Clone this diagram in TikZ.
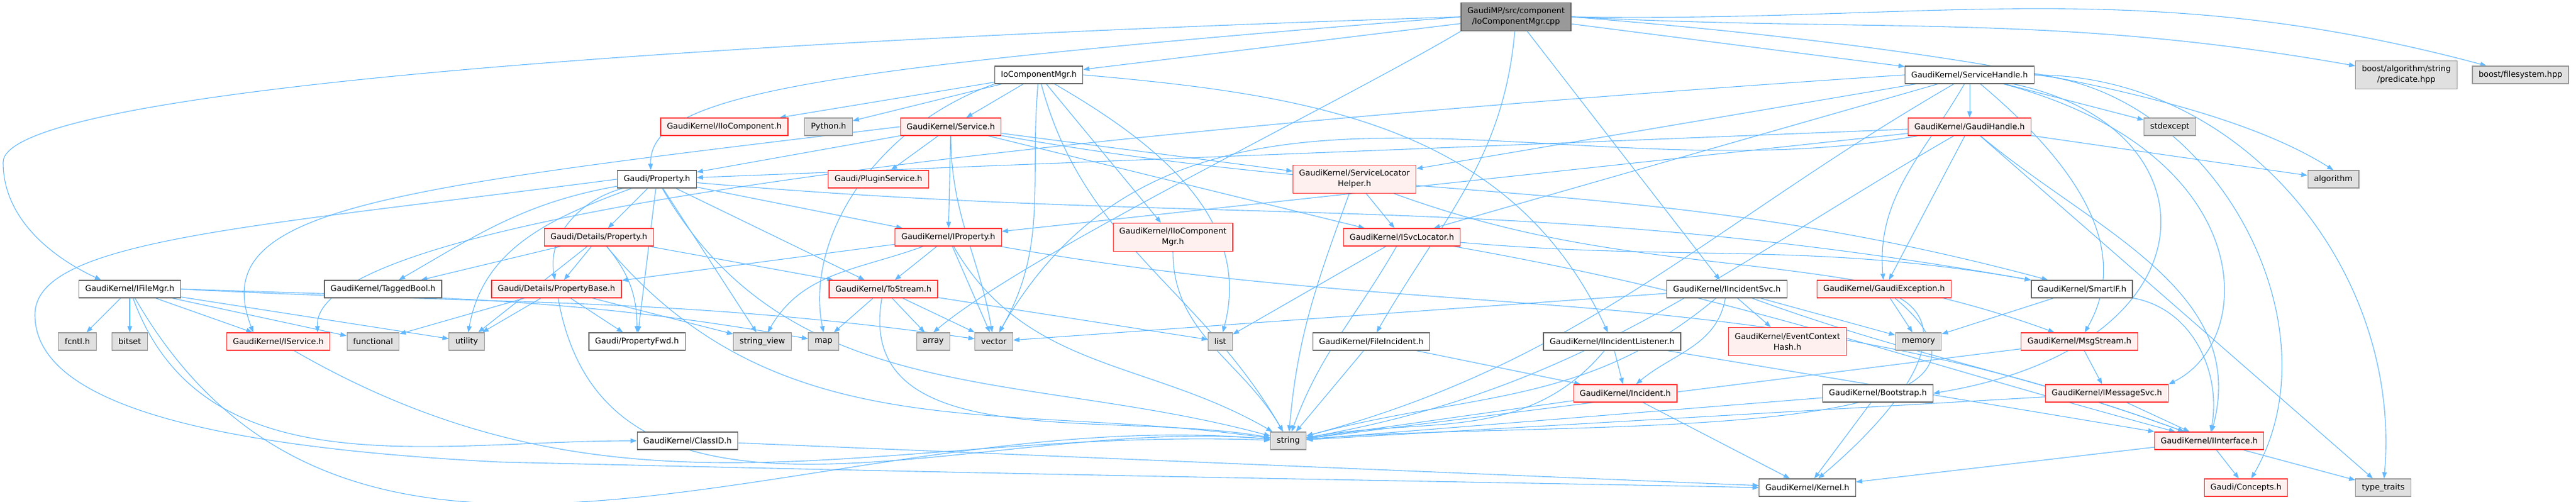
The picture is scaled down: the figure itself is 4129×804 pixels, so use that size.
\documentclass[tikz,border=0pt]{standalone}
\usepackage{fontspec}
\setmainfont{DejaVu Sans}
\usetikzlibrary{arrows.meta,backgrounds}

\definecolor{edgeblue}{HTML}{63B8FF}
\definecolor{boxgray}{HTML}{666666}
\definecolor{boxred}{HTML}{FF3333}
\definecolor{redfill}{HTML}{FFF0F0}
\definecolor{sysgray}{HTML}{999999}
\definecolor{sysfill}{HTML}{E0E0E0}
\definecolor{maingray}{HTML}{999999}

% one unit is one pixel of the graph, drawn at a tenth of a point
\tikzset{
  filebox/.style={draw=boxgray,fill=white,line width=0.12pt,minimum height=2.8pt,
    inner xsep=1pt,inner ysep=0pt,font=\fontsize{1.28}{1.7}\selectfont},
  redbox/.style={filebox,draw=boxred,fill=redfill},
  sysbox/.style={filebox,draw=sysgray,fill=sysfill},
  mainbox/.style={filebox,fill=maingray,align=center,minimum height=4.5pt},
  twoline/.style={align=center,minimum height=4.5pt},
  inc/.style={draw=edgeblue,line width=0.11pt,-{Triangle[length=1pt,width=0.75pt]}}
}

\begin{document}
\begin{tikzpicture}[x=0.1pt,y=0.1pt]
  \useasboundingbox (0,0) rectangle (4129,804);
  % rows, top to bottom
  \node[mainbox] (main) at (2430,777) {GaudiMP/src/component\\/IoComponentMgr.cpp};

  \node[filebox] (iocm) at (1665,684) {IoComponentMgr.h};
  \node[filebox] (svchandle) at (3157,684) {GaudiKernel/ServiceHandle.h};
  \node[sysbox,twoline] (predicate) at (3857,684) {boost/algorithm/string\\/predicate.hpp};
  \node[sysbox] (fsys) at (4040,684) {boost/filesystem.hpp};

  \node[redbox] (iiocomp) at (1161,601) {GaudiKernel/IIoComponent.h};
  \node[sysbox] (python) at (1328,601) {Python.h};
  \node[redbox] (service) at (1524,601) {GaudiKernel/Service.h};
  \node[redbox] (gaudihandle) at (3157,601) {GaudiKernel/GaudiHandle.h};
  \node[sysbox] (stdexcept) at (3478,601) {stdexcept};

  \node[filebox] (property) at (1053,517) {Gaudi/Property.h};
  \node[redbox] (pluginsvc) at (1408,517) {Gaudi/PluginService.h};
  \node[redbox,twoline] (svclochelper) at (2171,517) {GaudiKernel/ServiceLocator\\Helper.h};
  \node[sysbox] (algorithm) at (3740,517) {algorithm};

  \node[redbox] (detprop) at (960,424) {Gaudi/Details/Property.h};
  \node[redbox] (iprop) at (1520,424) {GaudiKernel/IProperty.h};
  \node[redbox,twoline] (iiocompmgr) at (1880,424) {GaudiKernel/IIoComponent\\Mgr.h};
  \node[redbox] (isvcloc) at (2247,424) {GaudiKernel/ISvcLocator.h};

  \node[filebox] (ifilemgr) at (208,341) {GaudiKernel/IFileMgr.h};
  \node[filebox] (taggedbool) at (614,341) {GaudiKernel/TaggedBool.h};
  \node[redbox] (propbase) at (892,341) {Gaudi/Details/PropertyBase.h};
  \node[redbox] (tostream) at (1416,341) {GaudiKernel/ToStream.h};
  \node[filebox] (iincsvc) at (2768,341) {GaudiKernel/IIncidentSvc.h};
  \node[redbox] (gaudiexc) at (3020,341) {GaudiKernel/GaudiException.h};
  \node[filebox] (smartif) at (3337,341) {GaudiKernel/SmartIF.h};

  \node[sysbox] (fcntl) at (124,257) {fcntl.h};
  \node[sysbox] (bitset) at (208,257) {bitset};
  \node[redbox] (iservice) at (446,257) {GaudiKernel/IService.h};
  \node[sysbox] (functional) at (598,257) {functional};
  \node[sysbox] (utility) at (748,257) {utility};
  \node[filebox] (propfwd) at (1021,257) {Gaudi/PropertyFwd.h};
  \node[sysbox] (stringview) at (1222,257) {string\_view};
  \node[sysbox] (map) at (1320,257) {map};
  \node[sysbox] (array) at (1496,257) {array};
  \node[sysbox] (vector) at (1593,257) {vector};
  \node[sysbox] (list) at (1956,257) {list};
  \node[filebox] (fileinc) at (2198,257) {GaudiKernel/FileIncident.h};
  \node[filebox] (iinclist) at (2584,257) {GaudiKernel/IIncidentListener.h};
  \node[redbox,twoline] (evtctxhash) at (2865,257) {GaudiKernel/EventContext\\Hash.h};
  \node[sysbox] (memory) at (3075,257) {memory};
  \node[redbox] (msgstream) at (3333,257) {GaudiKernel/MsgStream.h};

  \node[redbox] (incident) at (2605,174) {GaudiKernel/Incident.h};
  \node[filebox] (bootstrap) at (3010,174) {GaudiKernel/Bootstrap.h};
  \node[redbox] (imsgsvc) at (3377,174) {GaudiKernel/IMessageSvc.h};

  \node[filebox] (classid) at (1102,98) {GaudiKernel/ClassID.h};
  \node[sysbox] (string) at (2065,98) {string};
  \node[redbox] (iinterface) at (3541,98) {GaudiKernel/IInterface.h};

  \node[filebox] (kernel) at (2897,23) {GaudiKernel/Kernel.h};
  \node[redbox] (concepts) at (3600,23) {Gaudi/Concepts.h};
  \node[sysbox] (typetraits) at (3820,23) {type\_traits};

  \begin{scope}[on background layer]
    % the source file
    \draw[inc] (main) to (iocm);
    \draw[inc] (main) to (svchandle);
    \draw[inc] (main.east) to[out=-3,in=170] (predicate);
    \draw[inc] (main.east) to[out=-1,in=165] (fsys);
    \draw[inc] (main.west) .. controls (1000,734) and (5,654) .. (5,544)
      .. controls (5,444) and (100,384) .. ([xshift=3.6pt]ifilemgr.north west);
    \draw[inc] (main.west) .. controls (1300,694) and (1040,654) .. ([xshift=-1pt]property.north);
    \draw[inc] (main) to (iincsvc);
    \draw[inc] (main) to[out=-95,in=60] (fileinc);
    \draw[inc] (main.east) .. controls (3300,714) and (3600,620) .. (algorithm.north);
    \draw[inc] (main.south west) .. controls (2150,640) and (1650,400) .. (array.north);
    % IoComponentMgr.h
    \draw[inc] (iocm) to (iiocomp);
    \draw[inc] (iocm) to (python);
    \draw[inc] (iocm) to (service);
    \draw[inc] (iocm) to (iiocompmgr);
    \draw[inc] (iocm.south west) .. controls (1400,600) and (1290,420) .. (map.north);
    \draw[inc] (iocm) to[out=-95,in=60] (vector);
    \draw[inc] (iocm) to[out=-75,in=120] (string);
    \draw[inc] (iocm) to[out=-30,in=75] (list);
    \draw[inc] (iocm.east) to[out=-5,in=115] (iinclist);
    % Service.h
    \draw[inc] (service) to (property);
    \draw[inc] (service) to (pluginsvc);
    \draw[inc] (service) to (iprop);
    \draw[inc] (service) to (svclochelper);
    \draw[inc] (service) to (isvcloc);
    \draw[inc] (service.west) .. controls (600,500) and (330,470) .. ([xshift=-4pt]iservice.north);
    \draw[inc] (service) to[out=-90,in=100] (vector);
    \draw[inc] (service) to[out=-10,in=165] (smartif);
    % Gaudi/Property.h
    \draw[inc] (property) to (detprop);
    \draw[inc] (property) to (propfwd);
    \draw[inc] (property) to (iprop);
    \draw[inc] (property) to (tostream);
    \draw[inc] (property) to (stringview);
    \draw[inc] (property) to[out=195,in=100] (propbase);
    \draw[inc] (property) to[out=190,in=30] (taggedbool);
    \draw[inc] (property) to[out=200,in=80] (utility);
    \draw[inc] (property) to[out=-60,in=165] (string);
    \draw[inc] (property) to[out=-5,in=170] (smartif);
    \draw[inc] (property.west) .. controls (400,440) and (56,420) .. (56,300)
      .. controls (56,166) and (300,90) .. (800,64)
      .. controls (1800,40) and (2500,30) .. (kernel.west);
    % Details
    \draw[inc] (detprop) to (propbase);
    \draw[inc] (detprop) to (tostream);
    \draw[inc] (detprop) to (taggedbool);
    \draw[inc] (detprop) to (utility);
    \draw[inc] (detprop) to[out=-50,in=90] (propfwd);
    \draw[inc] (detprop) to[out=-50,in=172] (string);
    \draw[inc] (propbase) to (propfwd);
    \draw[inc] (propbase) to (stringview);
    \draw[inc] (propbase) to (functional);
    \draw[inc] (propbase) to (utility);
    \draw[inc] (propbase) to[out=-80,in=175] (string);
    \draw[inc] (tostream) to (map);
    \draw[inc] (tostream) to (array);
    \draw[inc] (tostream) to (vector);
    \draw[inc] (tostream) to (list);
    \draw[inc] (tostream) to[out=-100,in=170] (string);
    % IProperty.h
    \draw[inc] (iprop) to (propbase);
    \draw[inc] (iprop) to (tostream);
    \draw[inc] (iprop) to (vector);
    \draw[inc] (iprop) to[out=200,in=60] (stringview);
    \draw[inc] (iprop) to[out=-60,in=150] (string);
    \draw[inc] (iprop) to[out=-10,in=160] (iinterface);
    % locators
    \draw[inc] (iiocompmgr) to[out=-90,in=120] (string);
    \draw[inc] (svclochelper) to (isvcloc);
    \draw[inc] (svclochelper) to[out=-110,in=85] (string);
    \draw[inc] (svclochelper) to[out=-20,in=160] (msgstream);
    \draw[inc] (isvcloc) to (list);
    \draw[inc] (isvcloc) to[out=-120,in=70] (string);
    \draw[inc] (isvcloc) to[out=-5,in=170] (smartif);
    \draw[inc] (isvcloc) to[out=-10,in=165] (iinterface);
    % IFileMgr.h
    \draw[inc] (ifilemgr) to (fcntl);
    \draw[inc] (ifilemgr) to (bitset);
    \draw[inc] (ifilemgr) to (iservice);
    \draw[inc] (ifilemgr) to (functional);
    \draw[inc] (ifilemgr) to (utility);
    \draw[inc] (ifilemgr.east) to[out=-2,in=170] (map);
    \draw[inc] (ifilemgr.east) to[out=-3,in=172] (vector);
    \draw[inc] (ifilemgr) to[out=-60,in=175] (string);
    \draw[inc] (ifilemgr) to[out=-70,in=180] (classid);
    \draw[inc] (iservice) to[out=-30,in=178] (string);
    \draw[inc] (classid) to (kernel);
    % incidents
    \draw[inc] (iincsvc) to (vector);
    \draw[inc] (iincsvc) to[out=-140,in=15] (string);
    \draw[inc] (iincsvc) to[out=-100,in=40] (incident);
    \draw[inc] (iincsvc) to (evtctxhash);
    \draw[inc] (iincsvc) to (memory);
    \draw[inc] (iincsvc) to[out=-20,in=160] (iinterface);
    \draw[inc] (iinclist) to (incident);
    \draw[inc] (iinclist) to[out=-130,in=10] (string);
    \draw[inc] (iinclist) to (iinterface);
    \draw[inc] (incident) to (string);
    \draw[inc] (incident) to (kernel);
    \draw[inc] (fileinc) to (incident);
    \draw[inc] (fileinc) to (string);
    % exceptions and interfaces
    \draw[inc] (gaudiexc) to (memory);
    \draw[inc] (gaudiexc) to[out=-40,in=5] (string);
    \draw[inc] (gaudiexc) to[out=-30,in=40] (kernel);
    \draw[inc] (bootstrap) to (kernel);
    \draw[inc] (bootstrap) to (string);
    \draw[inc] (smartif) to[out=-10,in=80] (iinterface);
    \draw[inc] (smartif) to (memory);
    \draw[inc] (msgstream) to (imsgsvc);
    \draw[inc] (msgstream) to (string);
    \draw[inc] (imsgsvc) to (iinterface);
    \draw[inc] (imsgsvc) to (string);
    \draw[inc] (iinterface) to (concepts);
    \draw[inc] (iinterface) to (typetraits);
    \draw[inc] (iinterface) to (kernel);
    % ServiceHandle.h
    \draw[inc] (svchandle) to (gaudihandle);
    \draw[inc] (svchandle) to[out=-120,in=95] (gaudiexc);
    \draw[inc] (svchandle) to (stdexcept);
    \draw[inc] (svchandle.east) to[out=0,in=85] (typetraits);
    \draw[inc] (svchandle.east) to[out=-5,in=60] (concepts);
    \draw[inc] (svchandle) to[out=-40,in=60] (msgstream);
    \draw[inc] (svchandle) .. controls (3560,600) and (3560,250) .. (bootstrap.east);
    \draw[inc] (svchandle) .. controls (3620,560) and (3620,260) .. (imsgsvc.north east);
    \draw[inc] (svchandle.west) .. controls (1200,560) and (500,420) .. ([xshift=-2pt]iservice.north east);
    \draw[inc] (svchandle) to (isvcloc);
    \draw[inc] (svchandle) to (svclochelper);
    \draw[inc] (svchandle) to[out=-150,in=15] (string);
    % GaudiHandle.h
    \draw[inc] (gaudihandle) to (gaudiexc);
    \draw[inc] (gaudihandle) to (algorithm);
    \draw[inc] (gaudihandle) to (property);
    \draw[inc] (gaudihandle) to (iprop);
    \draw[inc] (gaudihandle) to[out=-170,in=60] (vector);
    \draw[inc] (gaudihandle) to[out=-150,in=10] (string);
    \draw[inc] (gaudihandle) to (typetraits);
    \draw[inc] (gaudihandle) to[out=-40,in=75] (iinterface);
  \end{scope}
\end{tikzpicture}
\end{document}
